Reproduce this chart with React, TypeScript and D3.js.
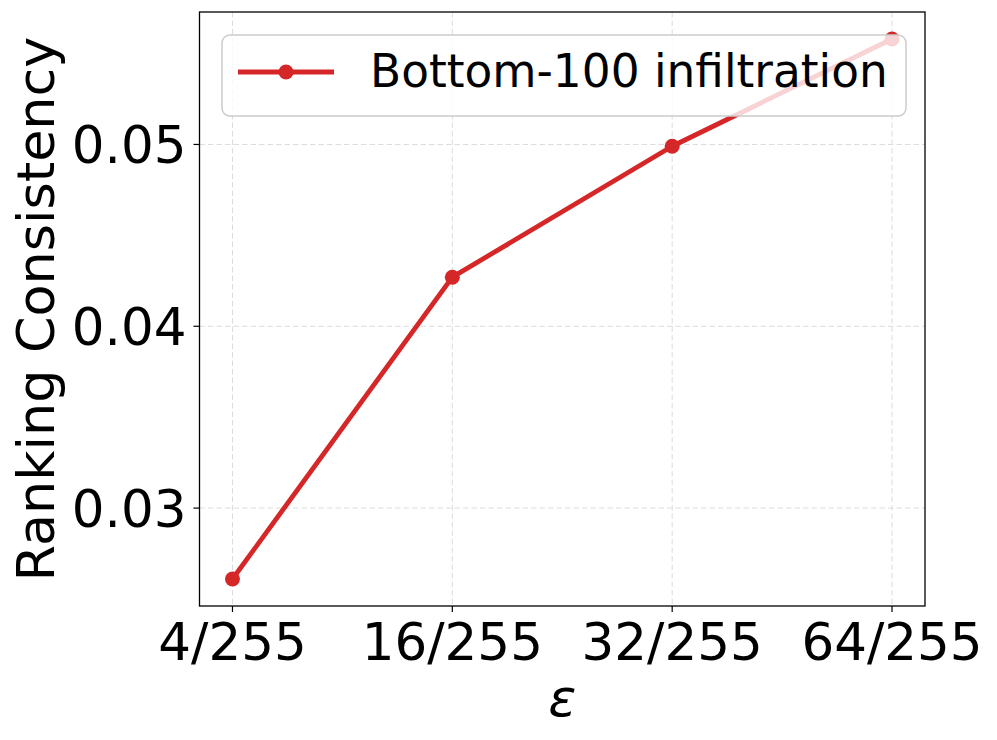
import React from "react";
import * as d3 from "d3";

const categories: string[] = ["4/255", "16/255", "32/255", "64/255"];
const values: number[] = [0.0261, 0.0427, 0.0499, 0.0558];
const yTicks: number[] = [0.03, 0.04, 0.05];
const seriesName = "Bottom-100 infiltration";
const xLabel = "ε";
const yLabel = "Ranking Consistency";

const W = 997;
const H = 740;
const margin = { left: 199.5, right: 72, top: 12, bottom: 134 };
const RED = "#d62728";
const FONT = "DejaVu Sans, sans-serif";

export default function App() {
  const x0 = margin.left;
  const x1 = W - margin.right;
  const y0 = margin.top;
  const y1 = H - margin.bottom;

  const x = d3.scaleLinear().domain([-0.15, categories.length - 1 + 0.15]).range([x0, x1]);
  const [vmin, vmax] = d3.extent(values) as [number, number];
  const pad = (vmax - vmin) * 0.05;
  const y = d3.scaleLinear().domain([vmin - pad, vmax + pad]).range([y1, y0]);

  const line = d3
    .line<number>()
    .x((_, i) => x(i))
    .y((d) => y(d));

  const legX = 222;
  const legY = 35;
  const legW = 684;
  const legH = 81;
  const legMidY = 72;

  return (
    <svg width={W} height={H} style={{ display: "block", margin: "-8px" }} fontFamily={FONT}>
      <rect x={0} y={0} width={W} height={H} fill="#fff" />
      {/* grid */}
      <g stroke="#dcdcdc" strokeWidth={1} strokeDasharray="5.5,3">
        {categories.map((_, i) => (
          <line key={"gx" + i} x1={x(i)} x2={x(i)} y1={y0} y2={y1} />
        ))}
        {yTicks.map((t) => (
          <line key={"gy" + t} x1={x0} x2={x1} y1={y(t)} y2={y(t)} />
        ))}
      </g>
      {/* data */}
      <path d={line(values) || ""} fill="none" stroke={RED} strokeWidth={4.8} strokeLinejoin="round" />
      {values.map((v, i) => (
        <circle key={"p" + i} cx={x(i)} cy={y(v)} r={7.5} fill={RED} />
      ))}
      {/* legend */}
      <rect
        x={legX}
        y={legY}
        width={legW}
        height={legH}
        rx={8}
        ry={8}
        fill="#fff"
        fillOpacity={0.8}
        stroke="#cccccc"
        strokeWidth={1.5}
      />
      <line x1={238} x2={334} y1={legMidY} y2={legMidY} stroke={RED} strokeWidth={4.8} />
      <circle cx={286} cy={legMidY} r={7.5} fill={RED} />
      <text x={370} y={87} fontSize={45.4} fill="#000">
        {seriesName}
      </text>
      {/* frame */}
      <rect x={x0} y={y0} width={x1 - x0} height={y1 - y0} fill="none" stroke="#000" strokeWidth={1.3} />
      {/* x ticks */}
      {categories.map((c, i) => (
        <g key={"xt" + i}>
          <line x1={x(i)} x2={x(i)} y1={y1} y2={y1 + 6} stroke="#000" strokeWidth={1.2} />
          <text x={x(i)} y={660} fontSize={51.5} textAnchor="middle" fill="#000">
            {c}
          </text>
        </g>
      ))}
      {/* y ticks */}
      {yTicks.map((t) => (
        <g key={"yt" + t}>
          <line x1={x0 - 6} x2={x0} y1={y(t)} y2={y(t)} stroke="#000" strokeWidth={1.2} />
          <text x={x0 - 13} y={y(t)} dy="0.36em" fontSize={51.5} textAnchor="end" fill="#000">
            {t.toFixed(2)}
          </text>
        </g>
      ))}
      {/* axis labels */}
      <text x={(x0 + x1) / 2} y={716} fontSize={52} fontStyle="italic" textAnchor="middle" fill="#000">
        {xLabel}
      </text>
      <text
        transform={`translate(54, ${(y0 + y1) / 2}) rotate(-90)`}
        fontSize={52.3}
        textAnchor="middle"
        fill="#000"
      >
        {yLabel}
      </text>
    </svg>
  );
}
